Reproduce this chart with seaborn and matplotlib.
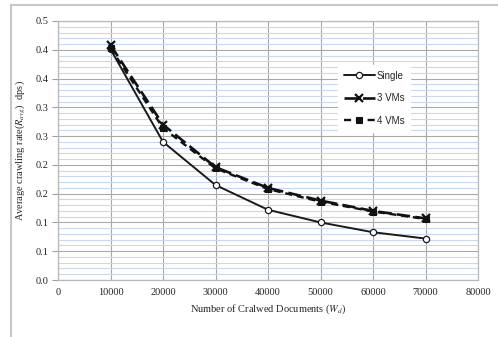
import numpy as np
import pandas as pd
import matplotlib
matplotlib.use("Agg")
import matplotlib.pyplot as plt
import matplotlib.patches as patches
from matplotlib.ticker import MultipleLocator
import seaborn as sns

# data
docs = [10000, 20000, 30000, 40000, 50000, 60000, 70000]
single = [0.401, 0.240, 0.165, 0.122, 0.100, 0.083, 0.072]
vm3 = [0.408, 0.270, 0.196, 0.160, 0.138, 0.120, 0.107]
vm4 = [0.403, 0.264, 0.194, 0.158, 0.136, 0.119, 0.106]

y_ticks = [0.0, 0.05, 0.10, 0.15, 0.20, 0.25, 0.30, 0.35, 0.40, 0.45]
y_labels = ['0.0', '0.1', '0.1', '0.2', '0.2', '0.3', '0.3', '0.4', '0.4', '0.5']
x_ticks = [0, 10000, 20000, 30000, 40000, 50000, 60000, 70000, 80000]

sns.set_style("white")
plt.rcParams['font.family'] = ['Liberation Serif', 'DejaVu Serif']
plt.rcParams['mathtext.fontset'] = 'stix'

fig = plt.figure(figsize=(4.98, 3.37), dpi=100)
W, H = 498, 337

# outer chart border (only top/left visible)
fig.patches.append(patches.Rectangle((11 / W, -0.1), 1.2, 1 - 5 / H + 0.1,
                                     transform=fig.transFigure, fill=False,
                                     edgecolor='#c8c8c8', lw=1.5))

ax = fig.add_axes([58 / W, (H - 280) / H, 420 / W, 259 / H])

df = pd.DataFrame({'docs': docs, 'Single': single, '3 VMs': vm3, '4 VMs': vm4})

sns.lineplot(data=df, x='docs', y='Single', ax=ax, color='#1a1a1a', lw=1.4,
             marker='o', markersize=4.5, markerfacecolor='white',
             markeredgecolor='#1a1a1a', markeredgewidth=0.9, label='Single', zorder=5)
sns.lineplot(data=df, x='docs', y='3 VMs', ax=ax, color='#111111', lw=1.9,
             linestyle=(0, (5, 2)), marker='x', markersize=6,
             markeredgecolor='#111111', markeredgewidth=1.6, label='3 VMs', zorder=7)
sns.lineplot(data=df, x='docs', y='4 VMs', ax=ax, color='#111111', lw=1.7,
             linestyle=(0, (3, 2)), marker='s', markersize=4,
             markeredgecolor='#111111', markerfacecolor='#111111',
             label='4 VMs', zorder=6)

ax.set_xlim(0, 80000)
ax.set_ylim(0, 0.45)
ax.set_xticks(x_ticks)
ax.set_xticklabels([str(v) for v in x_ticks], fontsize=7.5)
ax.set_yticks(y_ticks)
ax.set_yticklabels(y_labels, fontsize=7.5)
ax.yaxis.set_minor_locator(MultipleLocator(0.01))

ax.grid(which='minor', axis='y', color='#c9d8ec', lw=0.8, zorder=0)
ax.grid(which='major', axis='both', color='#a8a8a8', lw=0.8, zorder=1)
ax.set_axisbelow(True)
ax.tick_params(axis='y', which='major', length=4, width=0.8, color='#a0a0a0',
               direction='out', left=True, pad=3)
ax.tick_params(axis='y', which='minor', length=0)
ax.tick_params(axis='x', length=0, pad=6)
for s in ax.spines.values():
    s.set_color('#b8b8b8')
    s.set_linewidth(0.9)

ax.set_xlabel('Number of Cralwed Documents ($W_d$)', fontsize=7.5, labelpad=4)
ax.set_ylabel('Average crawling rate($R_{avg}$)  dps)', fontsize=7.5, labelpad=6)

leg = ax.legend(loc='upper left', bbox_to_anchor=(0.655, 0.85), frameon=True,
                fancybox=False, edgecolor='white', facecolor='white', framealpha=1,
                handlelength=3.2, labelspacing=1.3, handletextpad=0.2,
                borderpad=0.6, prop={'family': 'Liberation Sans', 'size': 7})

fig.savefig('out.png', dpi=100)
